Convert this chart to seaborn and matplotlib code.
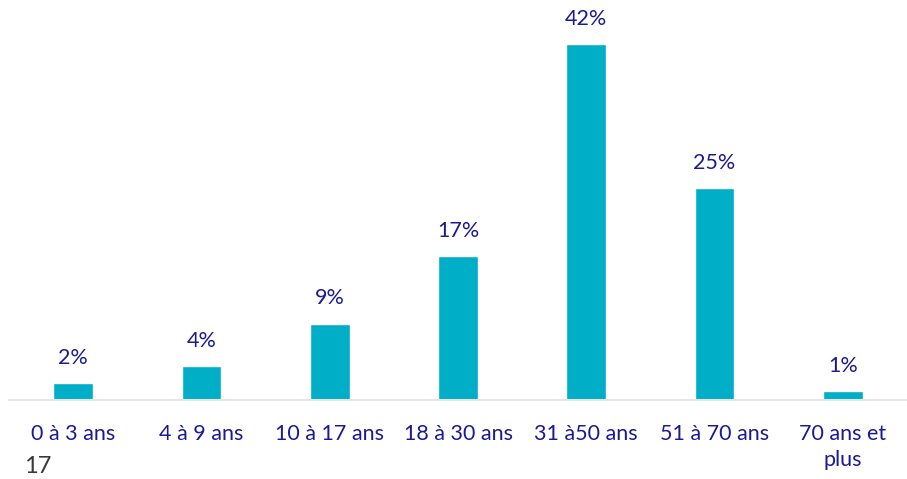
import matplotlib
matplotlib.use("Agg")
import matplotlib.pyplot as plt
import pandas as pd
import seaborn as sns

# ------------------------------------------------------------------------------
# Data
# ------------------------------------------------------------------------------
AGE_GROUPS = ["0 à 3 ans", "4 à 9 ans", "10 à 17 ans", "18 à 30 ans",
              "31 à50 ans", "51 à 70 ans", "70 ans et\nplus"]
SHARES = [2, 4, 9, 17, 42, 25, 1]
PAGE_NUMBER = "17"

BAR_COLOR = "#00AEC7"
TEXT_COLOR = "#1A1A96"
FONT_SIZE = 15.5

sns.set_style("white")
plt.rcParams["font.family"] = ["Lato", "DejaVu Sans"]

df = pd.DataFrame({"age": AGE_GROUPS, "share": SHARES})

fig = plt.figure(figsize=(9.07, 4.79), dpi=100)
ax = fig.add_axes([0.010, 0.165, 0.990, 0.835])
sns.barplot(data=df, x="age", y="share", color=BAR_COLOR, width=0.31,
            saturation=1, ax=ax)

for i, v in enumerate(SHARES):
  ax.annotate("%d%%" % v, (i, v), xytext=(0, 11), textcoords="offset points",
              ha="center", va="bottom", color=TEXT_COLOR, fontsize=FONT_SIZE)

ax.set_ylim(0, 47.2)
ax.set_xlim(-0.5, 6.5)
ax.set_xlabel("")
ax.set_ylabel("")
ax.set_yticks([])
for side in ["top", "right", "left"]:
  ax.spines[side].set_visible(False)
ax.spines["bottom"].set_color("#E3E6E6")
ax.spines["bottom"].set_linewidth(1.5)
ax.tick_params(axis="x", length=0, pad=17, labelsize=FONT_SIZE,
               labelcolor=TEXT_COLOR)
for lbl in ax.get_xticklabels():
  lbl.set_linespacing(1.4)

fig.text(0.026, 0.004, PAGE_NUMBER, color="#3A3A3A", fontsize=17,
         ha="left", va="bottom")

fig.savefig("out.png", dpi=100)
